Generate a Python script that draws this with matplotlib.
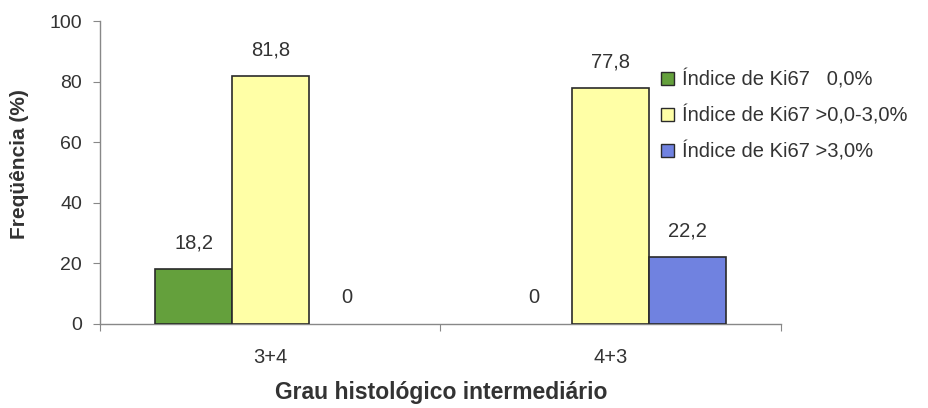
import matplotlib
matplotlib.use("Agg")
import matplotlib.pyplot as plt
import numpy as np

plt.rcParams['font.family'] = ['Liberation Sans', 'DejaVu Sans']

categories = ["3+4", "4+3"]
series_names = ["Índice de Ki67   0,0%", "Índice de Ki67 >0,0-3,0%", "Índice de Ki67 >3,0%"]
series_values = [
    [18.2, 0.0],
    [81.8, 77.8],
    [0.0, 22.2],
]
value_labels = [
    ["18,2", "0"],
    ["81,8", "77,8"],
    ["0", "22,2"],
]
colors = ["#64a03c", "#ffffa6", "#7082e0"]
yticks = [0, 20, 40, 60, 80, 100]

fig = plt.figure(figsize=(9.29, 4.08), dpi=100)
ax = fig.add_axes([0.1076, 0.2059, 0.7331, 0.7426])

x = np.arange(len(categories))
width = 0.225
for i, (name, vals) in enumerate(zip(series_names, series_values)):
    pos = x + (i - 1) * width
    # zero-height bars get no outline so the baseline stays clean
    lw = [1.2 if v > 0 else 0 for v in vals]
    ax.bar(pos, vals, width, color=colors[i], edgecolor="#2a2a2a", linewidth=lw,
           label=name, zorder=3)
    for px, v, lab in zip(pos, vals, value_labels[i]):
        ax.annotate(lab, (px, v), xytext=(0, 26), textcoords="offset pixels",
                    ha="center", va="center", fontsize=14.5, color="#333333")

ax.set_xlim(-0.5, 1.5)
ax.set_ylim(0, 100)
ax.set_yticks(yticks)
ax.set_yticklabels([str(t) for t in yticks])
ax.set_xticks([-0.5, 0.5, 1.5], minor=False)
ax.set_xticklabels(["", "", ""])
ax.set_xticks(x, minor=True)
ax.set_xticklabels(categories, minor=True)
ax.tick_params(axis="x", which="minor", length=0, pad=17, labelsize=14.5, labelcolor="#333333")
ax.tick_params(axis="x", which="major", length=5, color="#888888", direction="out")
ax.tick_params(axis="y", length=5, color="#888888", direction="out", pad=8,
               labelsize=14, labelcolor="#333333")

for s in ["top", "right"]:
    ax.spines[s].set_visible(False)
for s in ["left", "bottom"]:
    ax.spines[s].set_color("#888888")
    ax.spines[s].set_linewidth(1.0)

fig.text(0.0215, 0.598, "Freqüência (%)", rotation=90, ha="center", va="center",
         fontsize=15, fontweight="bold", color="#333333")
fig.text(0.475, 0.037, "Grau histológico intermediário", ha="center", va="center",
         fontsize=16.5, fontweight="bold", color="#333333")

leg = ax.legend(loc="upper left", bbox_to_anchor=(0.812, 0.865), frameon=False,
                fontsize=14.5, handlelength=0.65, handleheight=0.6, handletextpad=0.4,
                labelspacing=0.78, borderaxespad=0)
for t in leg.get_texts():
    t.set_color("#333333")
for h in leg.legend_handles:
    h.set_linewidth(1.0)
    h.set_edgecolor("#2a2a2a")

fig.savefig("out.png", dpi=100, facecolor="white")
